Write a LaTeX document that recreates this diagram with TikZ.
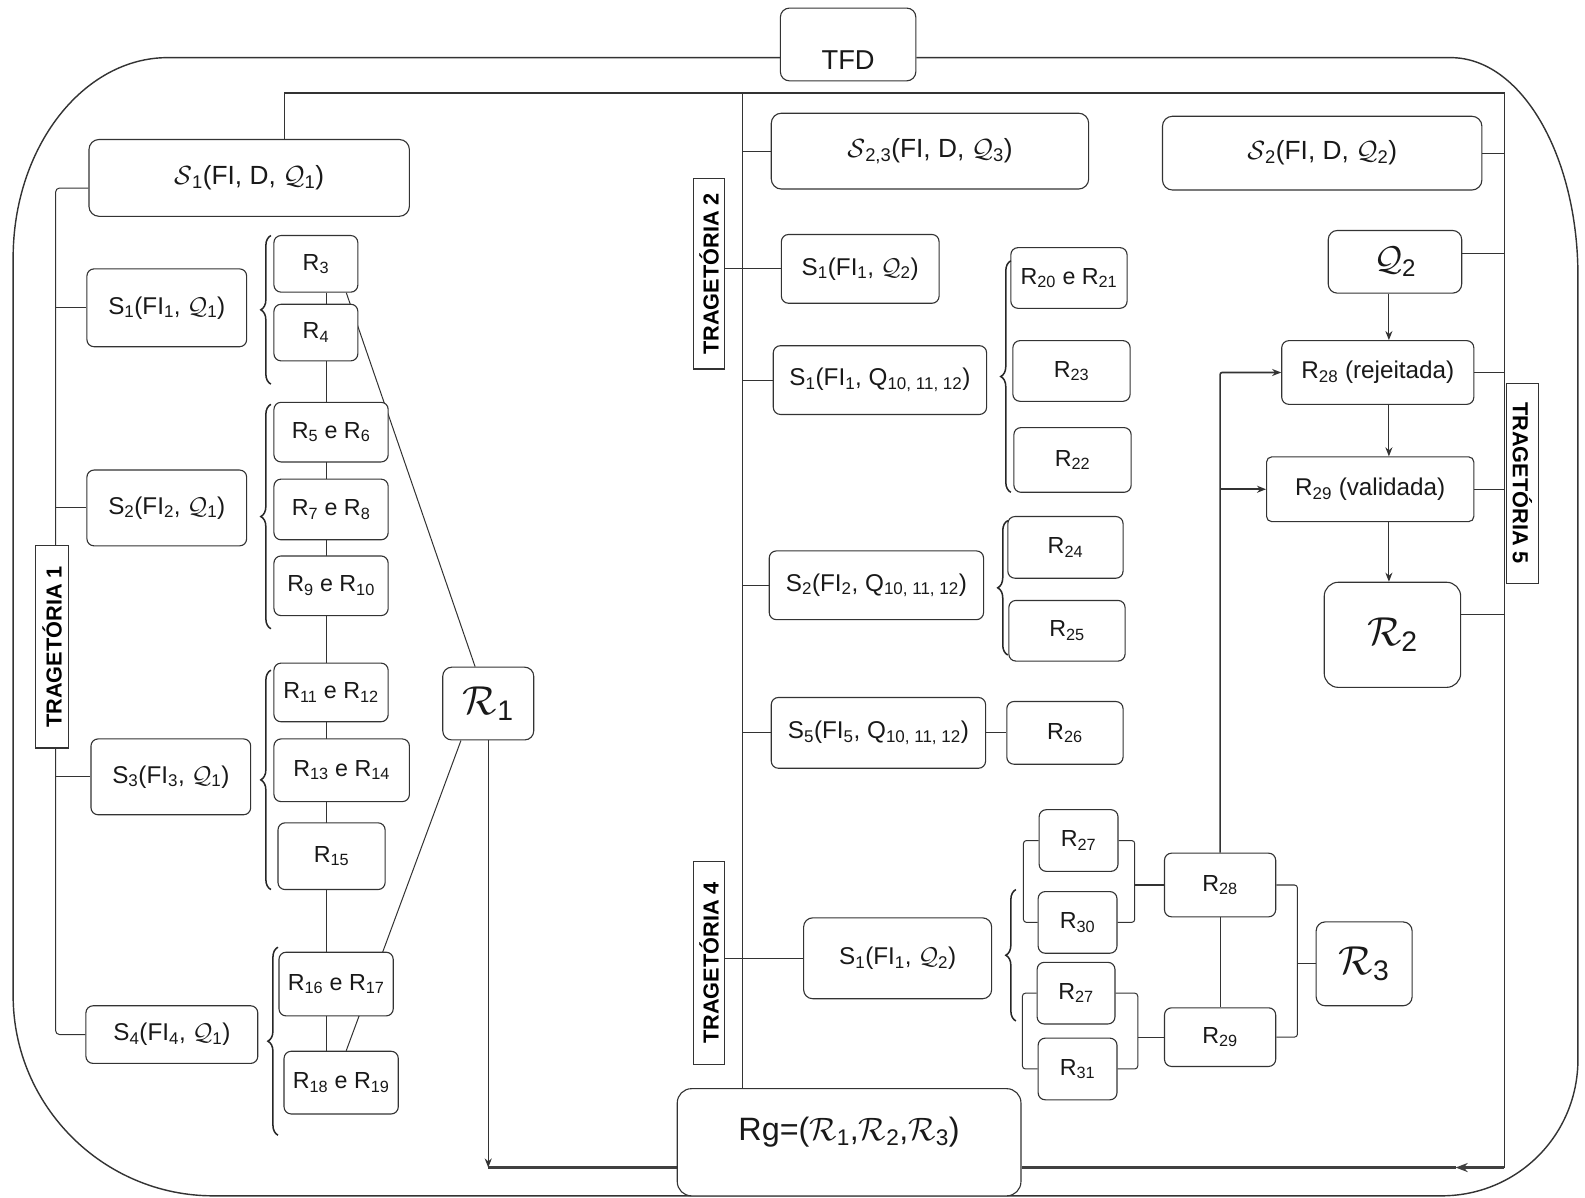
\RequirePackage{fix-cm}
\documentclass[tikz,border=0pt]{standalone}
\usepackage{fontspec}
\setmainfont{Liberation Sans}
\usetikzlibrary{arrows.meta,backgrounds,decorations.pathreplacing}
\newcommand{\cS}{\ensuremath{\mathcal{S}}}
\newcommand{\cQ}{\ensuremath{\mathcal{Q}}}
\newcommand{\cR}{\ensuremath{\mathcal{R}}}
\newcommand{\ssub}[1]{\textsubscript{#1}}
\begin{document}
\begin{tikzpicture}[x=1pt,y=-1pt,
  box/.style={draw=black!80, line width=1.1pt, rounded corners=7pt, fill=white, inner sep=0pt, align=center, text=black!90},
  fS/.style={font=\fontsize{24}{29}\selectfont},
  fT/.style={font=\fontsize{26}{31}\selectfont},
  fR/.style={font=\fontsize{23}{27}\selectfont},
  fBig/.style={font=\fontsize{40}{48}\selectfont},
  lab/.style={draw=black!80, line width=1.1pt, fill=white, inner sep=0pt, font=\fontsize{21.5}{25}\selectfont\bfseries},
  conn/.style={draw=black!80, line width=1pt},
  thickconn/.style={draw=black!75, line width=2.6pt},
  arr/.style={-{Stealth[length=9pt,width=7pt]}},
  bracestyle/.style={draw=black!85, line width=1.5pt, decorate, decoration={brace, amplitude=10pt}},
  outerframe/.style={draw=black!80, line width=1.4pt}]
\useasboundingbox (0,0) rectangle (1568,1185);

% ---------- top ----------
\node[box, minimum width=134, minimum height=72, rounded corners=9pt, font=\fontsize{27}{32}\selectfont] (TFD) at (839,44) {\raisebox{-15pt}[\height][\depth]{TFD}};

% ---------- left column ----------
\node[box, fT, minimum width=317, minimum height=76, rounded corners=10pt] (S1top) at (246.5,176) {\cS\ssub{1}(FI, D, \cQ\ssub{1})};
\node[box, fS, minimum width=158, minimum height=77] (S11) at (165,304.5) {S\ssub{1}(FI\ssub{1}, \cQ\ssub{1})};
\node[box, fS, minimum width=158, minimum height=75] (S12) at (165,502.5) {S\ssub{2}(FI\ssub{2}, \cQ\ssub{1})};
\node[box, fS, minimum width=158, minimum height=75] (S13) at (169,768.5) {S\ssub{3}(FI\ssub{3}, \cQ\ssub{1})};
\node[box, fS, minimum width=170, minimum height=57] (S14) at (170,1023.5) {S\ssub{4}(FI\ssub{4}, \cQ\ssub{1})};
\node[lab, rotate=90, minimum width=200, minimum height=33] (T1) at (51.5,640) {TRAGETÓRIA 1};

\node[box, fR, minimum width=83, minimum height=56] (R3) at (312.5,261) {R\ssub{3}};
\node[box, fR, minimum width=83, minimum height=56] (R4) at (312.5,329) {R\ssub{4}};
\node[box, fR, minimum width=113, minimum height=59] (R5) at (327.5,427.5) {R\ssub{5} e R\ssub{6}};
\node[box, fR, minimum width=113, minimum height=60] (R7) at (327.5,504) {R\ssub{7} e R\ssub{8}};
\node[box, fR, minimum width=113, minimum height=59] (R9) at (327.5,579.5) {R\ssub{9} e R\ssub{10}};
\node[box, fR, minimum width=113, minimum height=58] (R11) at (327.5,685) {R\ssub{11} e R\ssub{12}};
\node[box, fR, minimum width=134, minimum height=62] (R13) at (338,762) {R\ssub{13} e R\ssub{14}};
\node[box, fR, minimum width=106, minimum height=66] (R15) at (328,847) {R\ssub{15}};
\node[box, fR, minimum width=113, minimum height=63] (R16) at (332.5,973.5) {R\ssub{16} e R\ssub{17}};
\node[box, fR, minimum width=113, minimum height=62] (R18) at (337.5,1071) {R\ssub{18} e R\ssub{19}};
\node[box, fBig, minimum width=90, minimum height=72, rounded corners=9pt] (Rc1) at (483,696) {\cR\ssub{1}};

% ---------- middle column ----------
\node[lab, rotate=90, minimum width=188, minimum height=31] (T2) at (701.5,271) {TRAGETÓRIA 2};
\node[lab, rotate=90, minimum width=201, minimum height=31] (T4) at (701.5,952.5) {TRAGETÓRIA 4};
\node[box, fT, minimum width=314, minimum height=75, rounded corners=10pt] (S23) at (920,149.5) {\cS\ssub{2,3}(FI, D, \cQ\ssub{3})};
\node[box, fT, minimum width=316, minimum height=73, rounded corners=10pt] (S2top) at (1308,151.5) {\cS\ssub{2}(FI, D, \cQ\ssub{2})};
\node[box, fS, minimum width=156, minimum height=68] (S1b) at (851,266) {S\ssub{1}(FI\ssub{1}, \cQ\ssub{2})};
\node[box, fS, minimum width=211, minimum height=68] (S1c) at (870.5,376) {S\ssub{1}(FI\ssub{1}, Q\ssub{10, 11, 12})};
\node[box, fS, minimum width=212, minimum height=68] (S2c) at (867,579) {S\ssub{2}(FI\ssub{2}, Q\ssub{10, 11, 12})};
\node[box, fS, minimum width=212, minimum height=70] (S5c) at (869,725) {S\ssub{5}(FI\ssub{5}, Q\ssub{10, 11, 12})};
\node[box, fR, minimum width=115, minimum height=60] (R20) at (1057.5,275) {R\ssub{20} e R\ssub{21}};
\node[box, fR, minimum width=116, minimum height=60] (R23) at (1060,367) {R\ssub{23}};
\node[box, fR, minimum width=116, minimum height=64] (R22) at (1061,455) {R\ssub{22}};
\node[box, fR, minimum width=114, minimum height=61] (R24) at (1054,541.5) {R\ssub{24}};
\node[box, fR, minimum width=115, minimum height=60] (R25) at (1055.5,624) {R\ssub{25}};
\node[box, fR, minimum width=115, minimum height=62] (R26) at (1053.5,725) {R\ssub{26}};

\node[box, fS, minimum width=186, minimum height=80, rounded corners=9pt] (S1d) at (888,948) {S\ssub{1}(FI\ssub{1}, \cQ\ssub{2})};
\node[box, fR, minimum width=78, minimum height=61] (R27a) at (1067,831.5) {R\ssub{27}};
\node[box, fR, minimum width=78, minimum height=61] (R30) at (1066,912.5) {R\ssub{30}};
\node[box, fR, minimum width=77, minimum height=61] (R27b) at (1064.5,982.5) {R\ssub{27}};
\node[box, fR, minimum width=78, minimum height=61] (R31) at (1066,1057.5) {R\ssub{31}};
\node[box, fR, minimum width=110, minimum height=63] (R28b) at (1207,875.5) {R\ssub{28}};
\node[box, fR, minimum width=110, minimum height=58] (R29b) at (1207,1026) {R\ssub{29}};
\node[box, fBig, minimum width=95, minimum height=83, rounded corners=9pt] (Rc3) at (1349.5,953.5) {\cR\ssub{3}};

% ---------- right column ----------
\node[box, minimum width=132, minimum height=62, rounded corners=9pt, font=\fontsize{34}{40}\selectfont] (Q2) at (1380,259) {\cQ\ssub{2}};
\node[box, minimum width=190, minimum height=63, font=\fontsize{24}{29}\selectfont] (R28t) at (1363,368.5) {R\ssub{28} (rejeitada)};
\node[box, minimum width=205, minimum height=64, rounded corners=5pt, font=\fontsize{24}{29}\selectfont] (R29t) at (1355.5,484) {R\ssub{29} (validada)};
\node[box, fBig, minimum width=135, minimum height=104, rounded corners=14pt] (Rc2) at (1377.5,628) {\cR\ssub{2}};
\node[lab, rotate=-90, minimum width=198, minimum height=32] (T5) at (1506,478) {TRAGETÓRIA 5};

% ---------- bottom ----------
\node[box, minimum width=340, minimum height=106, rounded corners=14pt, font=\fontsize{32}{38}\selectfont] (Rg) at (840,1130) {\raisebox{10pt}[\height][\depth]{Rg=(\cR\ssub{1},\cR\ssub{2},\cR\ssub{3})}};

% ---------- coordinates ----------
\coordinate (ftop) at (0,57);
\coordinate (tl) at (281,92);
\coordinate (tm) at (735,92);
\coordinate (tr) at (1488,92);
\coordinate (br) at (1488,1155);
\coordinate (bl) at (483,1155);
\coordinate (ax) at (1440,1155);
\coordinate (lt) at (55,186);
\coordinate (rv) at (323,0);
\coordinate (av) at (1374,0);

\begin{pgfonlayer}{background}
  % outer frame
  \draw[outerframe] (TFD.west |- ftop) -- (166,57) .. controls (82,57) and (13,146) .. (13,255) -- (13,985) .. controls (13,1094) and (102,1183) .. (211,1183) -- (1426,1183) .. controls (1501,1183) and (1561,1123) .. (1561,1048) -- (1561,273) .. controls (1561,154) and (1505,57) .. (1435,57) -- (TFD.east |- ftop);
  % inner loop
  \draw[conn] (S1top.north -| tl) -- (tl) -- (tr) -- (br);
  \draw[conn] (tm) -- (Rg.north -| tm);
  \draw[thickconn, -{Stealth[length=12pt,width=9pt]}] (br) -- (ax);
  \draw[thickconn] (ax) -- (Rg.east |- br);
  \draw[thickconn] (Rg.west |- bl) -- (bl);
  \draw[conn, arr] (Rc1.south) -- (bl);
  % left tree
  \draw[conn, rounded corners=4pt] ([yshift=-10pt]S1top.west) -- (lt) -- (lt |- S14.west) -- (S14.west);
  \draw[conn] (S11.west -| lt) -- (S11.west);
  \draw[conn] (S12.west -| lt) -- (S12.west);
  \draw[conn] (S13.west -| lt) -- (S13.west);
  \draw[conn] (R3.south -| rv) -- (R18.north -| rv);
  \draw[conn] ([xshift=-12pt]R3.south east) -- ([xshift=-13pt]Rc1.north);
  \draw[conn] ([xshift=-27pt]Rc1.south) -- ([xshift=5pt]R18.north);
  % middle tree
  \draw[conn] (S23.west -| tm) -- (S23.west);
  \draw[conn] (T2.south |- S1b.west) -- (S1b.west);
  \draw[conn] (S1c.west -| tm) -- (S1c.west);
  \draw[conn] (S2c.west -| tm) -- (S2c.west);
  \draw[conn] (S5c.west -| tm) -- (S5c.west);
  \draw[conn] (S5c.east) -- (R26.west);
  \draw[conn] (T4.south |- S1d.west) -- (S1d.west);
  % trajectory 4 network
  \draw[conn, rounded corners=3pt] (R27a.west) -- ++(-15,0) |- (R30.west);
  \draw[conn, rounded corners=3pt] (R27a.east) -- ++(16,0) coordinate (rb1) |- (R30.east);
  \draw[conn] (R28b.west) -- (R28b.west -| rb1);
  \draw[conn, rounded corners=3pt] (R27b.west) -- ++(-14,0) |- (R31.west);
  \draw[conn, rounded corners=3pt] (R27b.east) -- ++(22,0) coordinate (rb2) |- (R31.east);
  \draw[conn] (R29b.west) -- (R29b.west -| rb2);
  \draw[conn, rounded corners=3pt] (R28b.east) -- ++(21,0) coordinate (rb3) |- (R29b.east);
  \draw[conn] (Rc3.west) -- (Rc3.west -| rb3);
  \draw[conn] (R28b.south) -- (R29b.north);
  \draw[conn, line width=1.6pt, arr, rounded corners=2pt] (R28b.north) |- (R28t.west);
  \draw[conn, line width=1.6pt, arr] (R28b.north |- R29t.west) -- (R29t.west);
  % right column
  \draw[conn] (S2top.east) -- (S2top.east -| tr);
  \draw[conn] ([yshift=8pt]Q2.east) -- ([yshift=8pt]Q2.east -| tr);
  \draw[conn] (R28t.east) -- (R28t.east -| tr);
  \draw[conn] (R29t.east) -- (R29t.east -| tr);
  \draw[conn] ([yshift=20pt]Rc2.east) -- ([yshift=20pt]Rc2.east -| tr);
  \draw[conn, arr] (Q2.south -| av) -- (R28t.north -| av);
  \draw[conn, arr] (R28t.south -| av) -- (R29t.north -| av);
  \draw[conn, arr] (R29t.south -| av) -- (Rc2.north -| av);
\end{pgfonlayer}

% ---------- braces ----------
\draw[bracestyle] (268,380) -- (268,233);
\draw[bracestyle] (268,622) -- (268,400);
\draw[bracestyle] (268,880) -- (268,663);
\draw[bracestyle] (275,1123) -- (275,937);
\draw[bracestyle] (1000,487) -- (1000,258);
\draw[bracestyle] (997,648) -- (997,515);
\draw[bracestyle] (1005,1010) -- (1005,880);
\end{tikzpicture}
\end{document}
